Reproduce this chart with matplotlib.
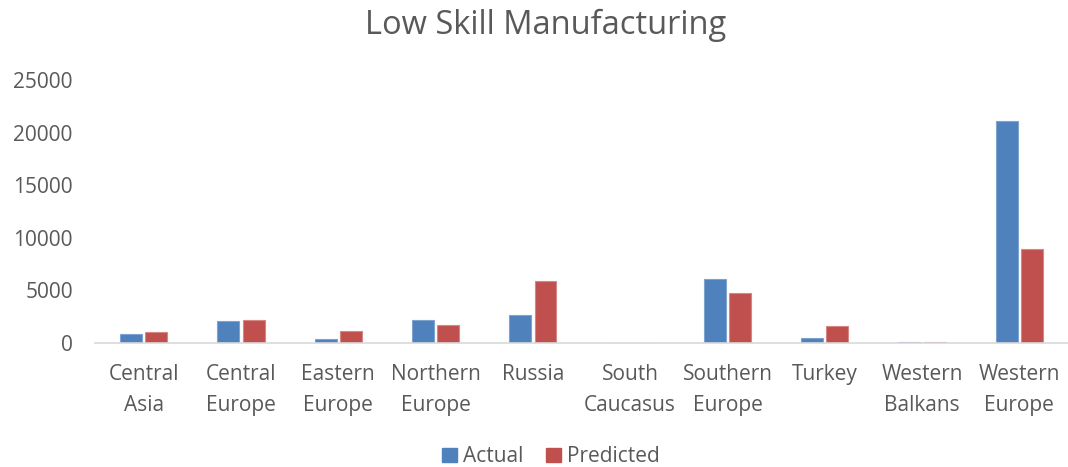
import numpy as np
import matplotlib.pyplot as plt
from matplotlib.patches import Patch

regions = ["Central\nAsia", "Central\nEurope", "Eastern\nEurope", "Northern\nEurope",
           "Russia", "South\nCaucasus", "Southern\nEurope", "Turkey",
           "Western\nBalkans", "Western\nEurope"]
actual = [870, 2050, 400, 2200, 2700, 20, 6050, 520, 60, 21100]
predicted = [1000, 2180, 1100, 1750, 5900, 10, 4750, 1650, 110, 8950]

blue = "#4F81BD"
red = "#C0504D"
grey = "#595959"

plt.rcParams['font.family'] = ['Open Sans', 'DejaVu Sans']

fig = plt.figure(figsize=(10.68, 4.67), dpi=100)
ax = fig.add_axes([0.089, 0.2655, 0.911, 0.5632])

x = np.arange(len(regions))
w = 0.225
ax.bar(x - 0.13, actual, w, color=blue, edgecolor="#7FA3D1", linewidth=0.8, label="Actual")
ax.bar(x + 0.13, predicted, w, color=red, edgecolor="#D88683", linewidth=0.8, label="Predicted")

ax.set_xlim(-0.5, len(regions) - 0.5)
ax.set_ylim(0, 25000)
ax.set_yticks(range(0, 25001, 5000))
ax.set_xticks(x)
ax.set_xticklabels(regions, fontsize=15, color=grey, linespacing=1.62)
ax.tick_params(axis="y", labelsize=15, labelcolor=grey, length=0, pad=16)
ax.tick_params(axis="x", length=0, pad=15)

for side in ["top", "right", "left"]:
    ax.spines[side].set_visible(False)
ax.spines["bottom"].set_color("#D9D9D9")
ax.spines["bottom"].set_linewidth(1.2)

fig.text(0.511, 0.945, "Low Skill Manufacturing", ha="center", va="center",
         fontsize=23.5, color=grey)

handles = [Patch(color=blue), Patch(color=red)]
fig.legend(handles, ["Actual", "Predicted"], loc="center", bbox_to_anchor=(0.516, 0.022),
           ncol=2, frameon=False, fontsize=15, labelcolor=grey,
           handlelength=0.7, handleheight=0.7, handletextpad=0.3, columnspacing=1.1)

fig.savefig("out.png", dpi=100)
